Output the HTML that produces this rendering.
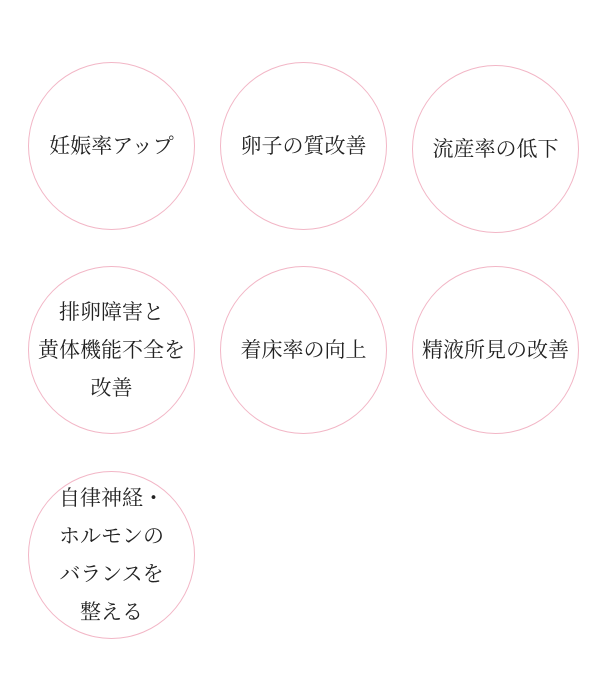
<!DOCTYPE html>
<html><head><meta charset="utf-8"><style>
body{margin:0;width:600px;height:700px;background:#fff;position:relative;overflow:hidden}
.c{position:absolute;width:167px;height:168px;border:1px solid #f2b6c6;border-radius:50%;display:flex;align-items:center;justify-content:center;text-align:center;font-family:"Liberation Serif","Noto Serif CJK SC",serif;font-size:21px;line-height:38px;color:#222;box-sizing:border-box}
</style></head><body>
<div class="c" style="left:28px;top:62px">妊娠率アップ</div>
<div class="c" style="left:220px;top:62px">卵子の質改善</div>
<div class="c" style="left:412px;top:65px">流産率の低下</div>
<div class="c" style="left:28px;top:266px">排卵障害と<br>黄体機能不全を<br>改善</div>
<div class="c" style="left:220px;top:266px">着床率の向上</div>
<div class="c" style="left:412px;top:266px">精液所見の改善</div>
<div class="c" style="left:28px;top:471px">自律神経・<br>ホルモンの<br>バランスを<br>整える</div>
</body></html>
